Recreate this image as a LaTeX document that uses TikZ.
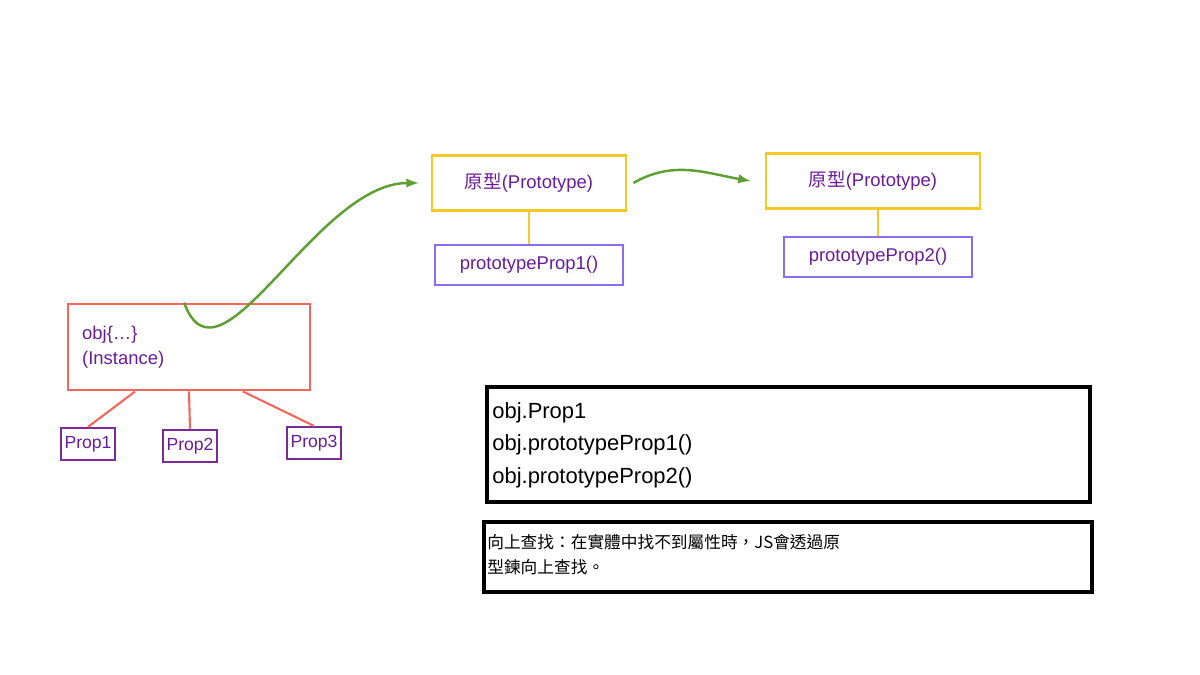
\documentclass[tikz,border=0pt]{standalone}
\usepackage{fontspec}
\setmainfont{Liberation Sans}
\newfontfamily\cjk{Noto Sans CJK TC}
\usetikzlibrary{positioning,calc}
\definecolor{instred}{HTML}{F2675C}
\definecolor{protoyel}{HTML}{F5C825}
\definecolor{propvio}{HTML}{7E2A96}
\definecolor{ppvio}{HTML}{8A6CF0}
\definecolor{txtvio}{HTML}{6A1B9A}
\definecolor{arrgreen}{HTML}{5E9E32}
\tikzset{
  inst/.style={draw=instred,line width=1.6pt,minimum width=242*0.02cm,minimum height=86*0.02cm,
    text=txtvio,font=\fontsize{10.5}{14}\selectfont,align=left,inner sep=0pt},
  prop/.style={draw=propvio,line width=1.2pt,text=txtvio,font=\fontsize{10}{12}\selectfont,
    minimum height=32*0.02cm,inner sep=2pt},
  proto/.style={draw=protoyel,line width=1.6pt,text=txtvio,font=\fontsize{10.5}{12}\selectfont,
    minimum height=55*0.02cm},
  pprop/.style={draw=ppvio,line width=1.4pt,text=txtvio,font=\fontsize{10.5}{12}\selectfont,
    minimum height=40*0.02cm},
  link/.style={line width=1.2pt},
  chain/.style={arrgreen,line width=1.4pt,-latex},
  codebox/.style={draw=black,line width=2.2pt,anchor=north west,inner sep=0pt,align=left}
}
\begin{document}
\begin{tikzpicture}[x=0.02cm,y=-0.02cm]
  \useasboundingbox (0,0) rectangle (1200,675);
  % instance and its properties
  \node[inst] (inst) at (189,347) {};
  \node[anchor=west,text=txtvio,font=\fontsize{10.5}{14}\selectfont,align=left] (instlbl) at (76,347) {obj\{\dots\}\\(Instance)};
  \node[prop] (p1) at (88,444) {Prop1};
  \node[prop] (p2) at (190,446) {Prop2};
  \node[prop] (p3) at (314,443) {Prop3};
  \draw[instred,link] ($(inst.south west)!0.28!(inst.south east)$) -- (p1.north);
  \draw[instred,link] (inst.south) -- (p2.north);
  \draw[instred,link] ($(inst.south west)!0.72!(inst.south east)$) -- (p3.north);
  % prototype chain
  \node[proto,minimum width=194*0.02cm] (pr1) at (529,183) {{\cjk 原型}(Prototype)};
  \node[pprop,minimum width=188*0.02cm] (pp1) at (529,265) {prototypeProp1()};
  \draw[protoyel,link] (pr1) -- (pp1);
  \node[proto,minimum width=214*0.02cm] (pr2) at (873,181) {{\cjk 原型}(Prototype)};
  \node[pprop,minimum width=188*0.02cm] (pp2) at (878,257) {prototypeProp2()};
  \draw[protoyel,link] (pr2.south -| pp2) -- (pp2);
  \draw[chain] ($(inst.north west)!0.48!(inst.north east)$) to[out=-70,in=180] ([xshift=-12*0.02cm]pr1.west);
  \draw[chain] ([xshift=6*0.02cm]pr1.east) to[out=30,in=170] ([xshift=-14*0.02cm]pr2.west);
  % usage
  \node[codebox,minimum width=603*0.02cm,minimum height=115*0.02cm] (code) at (485,385) {};
  \node[anchor=north west,font=\fontsize{12.5}{18.5}\selectfont,align=left,inner sep=0pt] (codetxt) at (492,402)
    {obj.Prop1\\obj.prototypeProp1()\\obj.prototypeProp2()};
  \node[codebox,minimum width=608*0.02cm,minimum height=70*0.02cm] (note) at (482,520) {};
  \node[anchor=north west,font=\cjk\fontsize{9.5}{14}\selectfont,align=left,inner sep=0pt] (notetxt) at (487,534)
    {向上查找：在實體中找不到屬性時，JS會透過原\\型鍊向上查找。};
\end{tikzpicture}
\end{document}
